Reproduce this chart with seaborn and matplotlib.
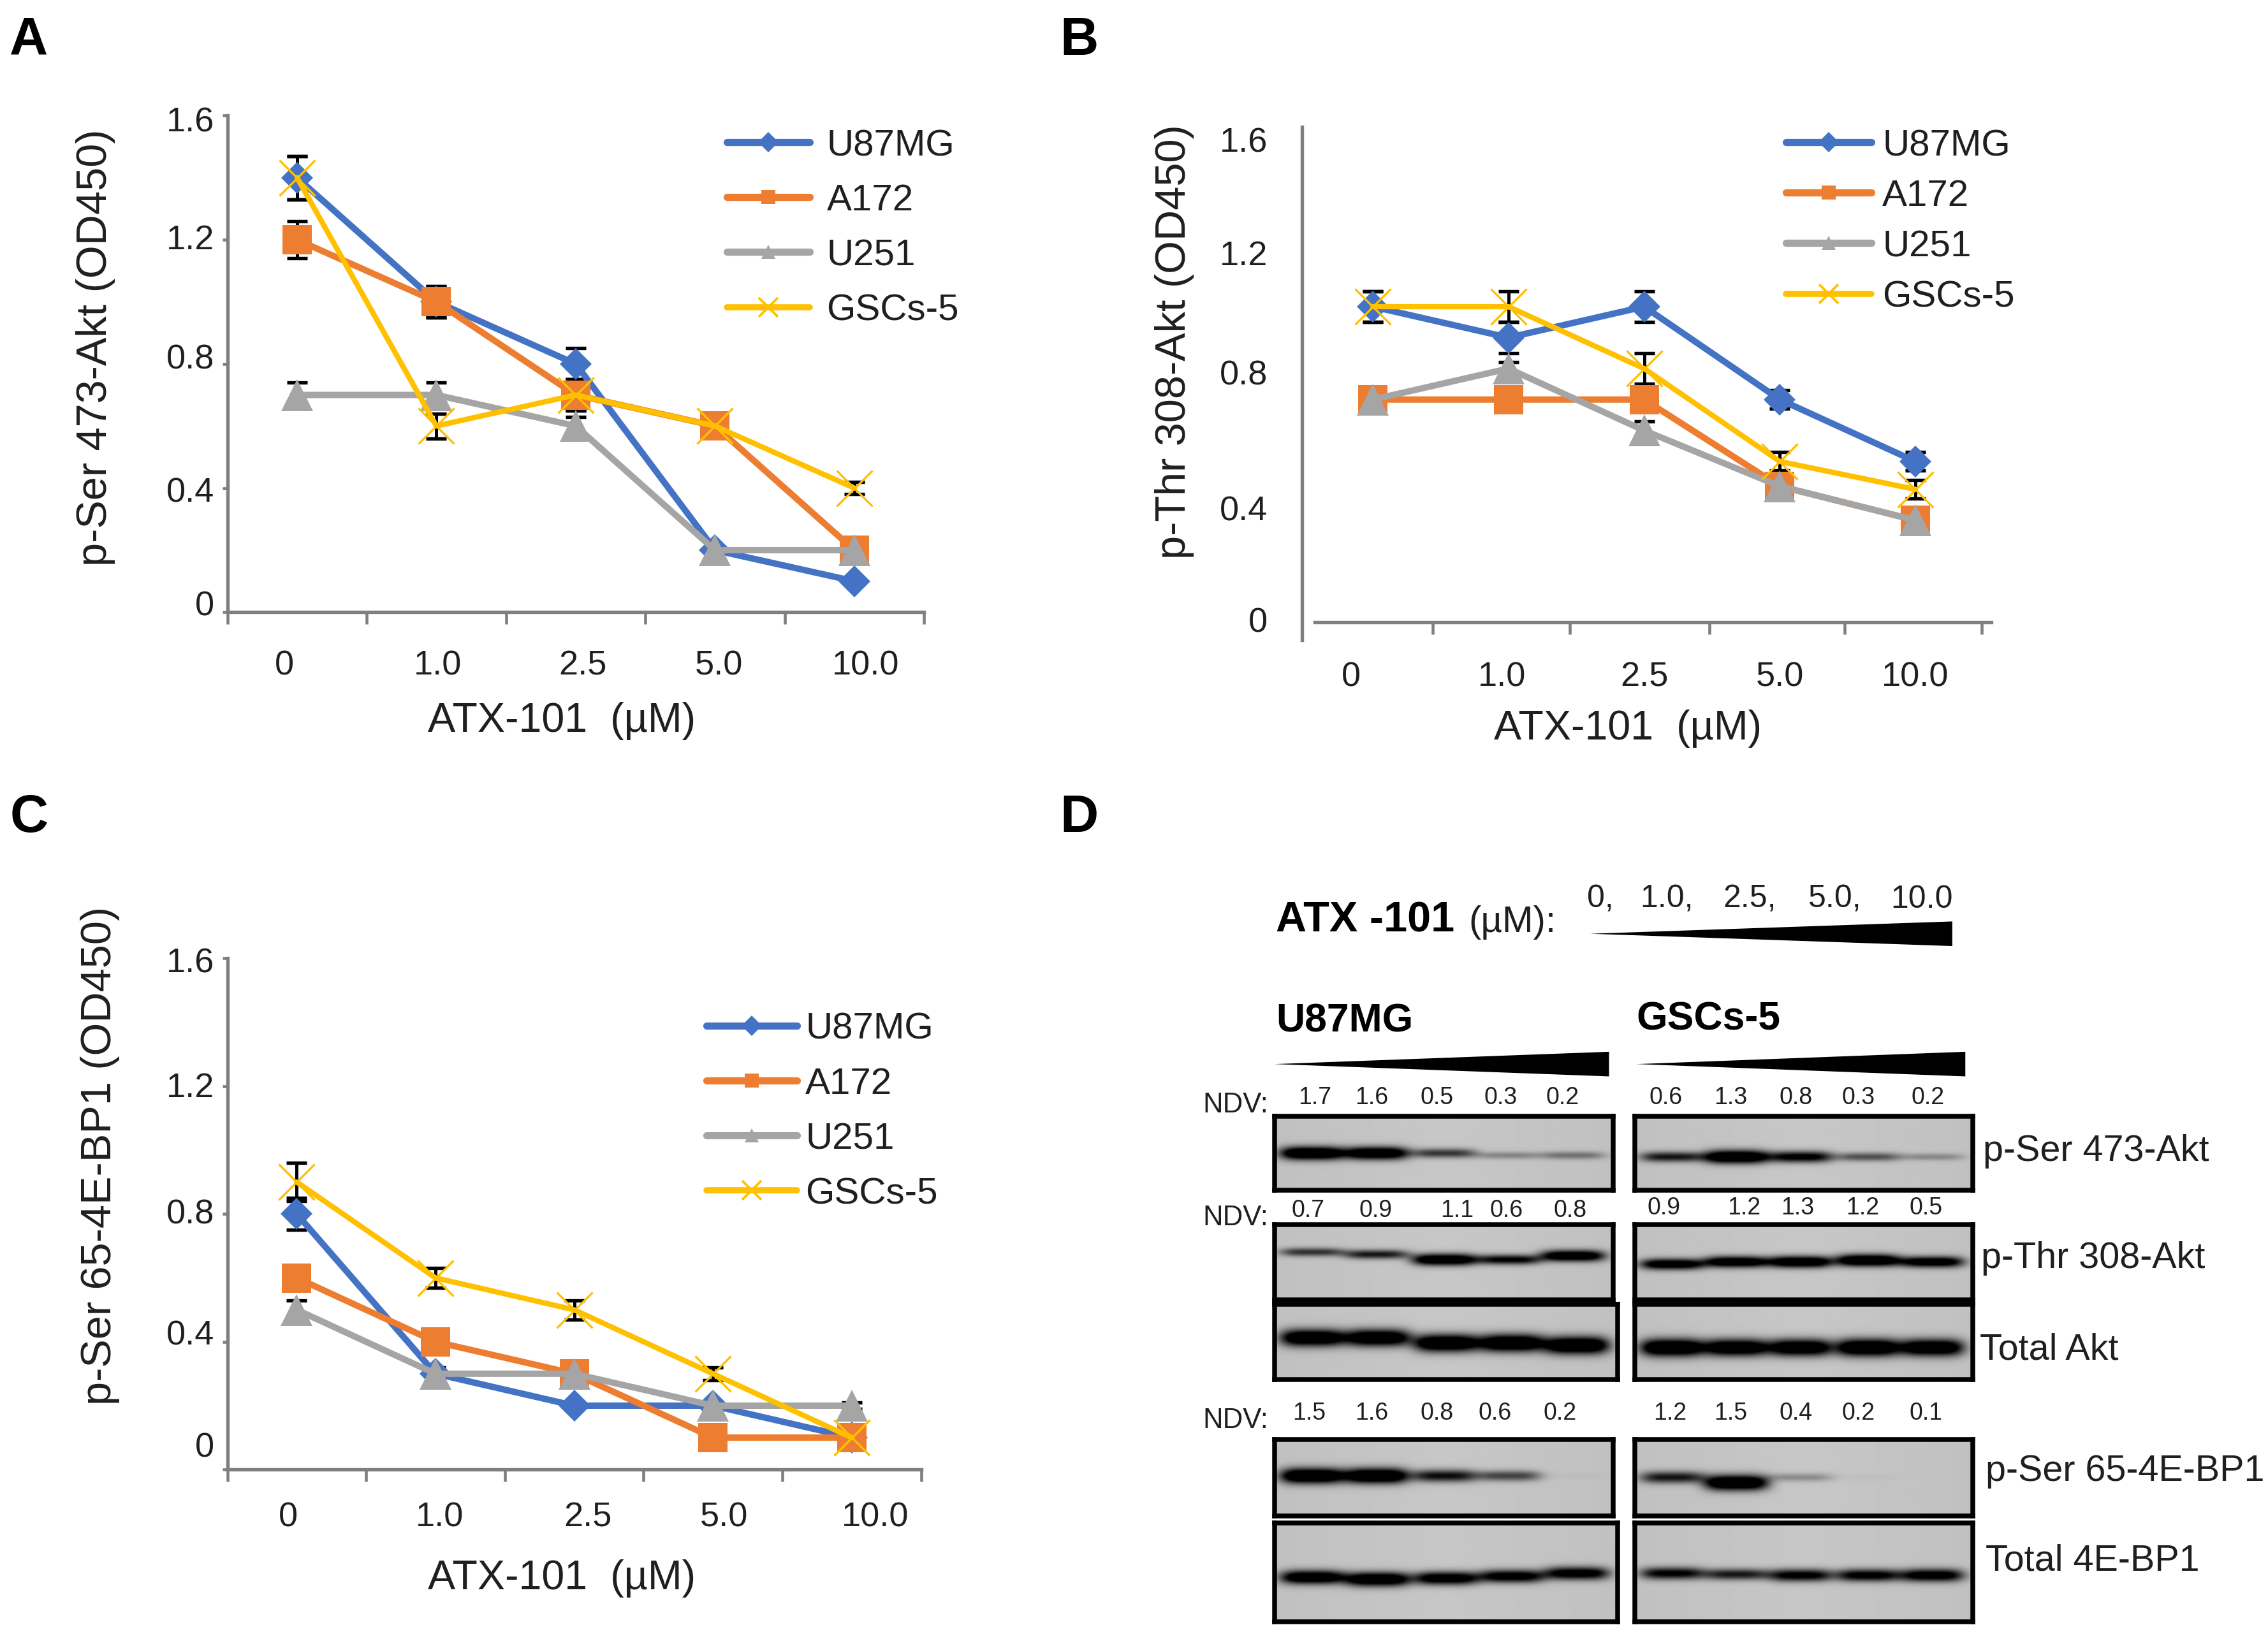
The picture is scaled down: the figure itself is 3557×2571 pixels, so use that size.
import numpy as np
import pandas as pd
import matplotlib
matplotlib.use('Agg')
import matplotlib.pyplot as plt
from matplotlib.lines import Line2D
from matplotlib.patches import Polygon
import seaborn as sns

sns.set_theme(style='white')
plt.rcParams['font.family'] = ['Liberation Sans', 'DejaVu Sans']

# Data
doses = ['0', '1.0', '2.5', '5.0', '10.0']
lines = ['U87MG', 'A172', 'U251', 'GSCs-5']
colors = ['#4472c4', '#ed7d31', '#a5a5a5', '#ffc000']
markers = ['D', 's', '^', 'x']
marker_sizes = [8.5, 11, 12, 13.5]
line_widths = [2.4, 2.4, 2.4, 2.0]

a_values = [[1.4, 1.0, 0.8, 0.2, 0.1],
            [1.2, 1.0, 0.7, 0.6, 0.2],
            [0.7, 0.7, 0.6, 0.2, 0.2],
            [1.4, 0.6, 0.7, 0.6, 0.4]]
a_errors = [[0.07, 0.05, 0.05, 0.01, 0.01],
            [0.06, 0.05, 0.05, 0.01, 0.01],
            [0.04, 0.04, 0.03, 0.01, 0.01],
            [0.07, 0.04, 0.05, 0.01, 0.02]]

b_values = [[1.02, 0.92, 1.02, 0.72, 0.52],
            [0.72, 0.72, 0.72, 0.44, 0.33],
            [0.72, 0.82, 0.62, 0.44, 0.33],
            [1.02, 1.02, 0.82, 0.52, 0.43]]
b_errors = [[0.05, 0.05, 0.05, 0.03, 0.03],
            [0.01, 0.01, 0.01, 0.01, 0.01],
            [0.02, 0.02, 0.03, 0.01, 0.01],
            [0.05, 0.05, 0.05, 0.03, 0.03]]

c_values = [[0.8, 0.3, 0.2, 0.2, 0.1],
            [0.6, 0.4, 0.3, 0.1, 0.1],
            [0.5, 0.3, 0.3, 0.2, 0.2],
            [0.9, 0.6, 0.5, 0.3, 0.1]]
c_errors = [[0.05, 0.02, 0.01, 0.01, 0.01],
            [0.01, 0.01, 0.01, 0.01, 0.01],
            [0.03, 0.01, 0.01, 0.01, 0.01],
            [0.06, 0.03, 0.03, 0.02, 0.01]]

y_labels = ['1.6', '1.2', '0.8', '0.4', '0']

# NDV numbers above the blots
ndv_left = [['1.7', '1.6', '0.5', '0.3', '0.2'],
            ['0.7', '0.9', '1.1', '0.6', '0.8'],
            ['1.5', '1.6', '0.8', '0.6', '0.2']]
ndv_right = [['0.6', '1.3', '0.8', '0.3', '0.2'],
             ['0.9', '1.2', '1.3', '1.2', '0.5'],
             ['1.2', '1.5', '0.4', '0.2', '0.1']]

# Band darkness on each blot, lane by lane
blot_names = ['p-Ser 473-Akt', 'p-Thr 308-Akt', 'Total Akt', 'p-Ser 65-4E-BP1', 'Total 4E-BP1']
bands_left = [[1.0, 0.95, 0.5, 0.22, 0.28],
              [0.5, 0.6, 0.95, 0.7, 0.9],
              [0.95, 0.95, 1.0, 1.0, 1.0],
              [1.0, 1.0, 0.65, 0.45, 0.02],
              [0.9, 0.95, 0.85, 0.8, 0.8]]
bands_right = [[0.6, 1.0, 0.75, 0.4, 0.2],
               [0.85, 0.9, 0.95, 1.0, 0.85],
               [1.0, 0.95, 0.95, 1.0, 0.95],
               [0.6, 1.0, 0.2, 0.02, 0.0],
               [0.7, 0.6, 0.75, 0.75, 0.8]]
band_y_left = [[0.5, 0.5, 0.5, 0.53, 0.53],
               [0.37, 0.4, 0.47, 0.47, 0.42],
               [0.45, 0.45, 0.52, 0.52, 0.55],
               [0.48, 0.48, 0.48, 0.48, 0.48],
               [0.55, 0.57, 0.56, 0.54, 0.51]]
band_y_right = [[0.55, 0.55, 0.55, 0.55, 0.55],
                [0.53, 0.5, 0.5, 0.48, 0.5],
                [0.58, 0.58, 0.58, 0.58, 0.58],
                [0.5, 0.57, 0.5, 0.5, 0.5],
                [0.51, 0.52, 0.53, 0.53, 0.53]]
band_thickness = [0.085, 0.075, 0.11, 0.095, 0.07]

# Layout is written in units of the on-screen view of the figure
W, H = 1566.0, 1132.0
TEXT = '#1f1f1f'
AXIS = '#7f7f7f'

fig = plt.figure(figsize=(3557 / 300, 2571.5 / 300), dpi=300, facecolor='white')


def box(l, t, r, b):
    return [l / W, 1 - b / H, (r - l) / W, (b - t) / H]


def put(x, y, s, **kw):
    kw.setdefault('color', TEXT)
    kw.setdefault('va', 'center')
    fig.text(x / W, 1 - y / H, s, **kw)


# Function for one line chart panel
def panel(rect, values, errors, ylabel, opts):
    ax = fig.add_axes(box(*rect))
    frame = pd.DataFrame(values, index=lines, columns=range(5)).T
    frame['dose'] = range(5)

    for i, name in enumerate(lines):
        ax.errorbar(frame['dose'], frame[name], yerr=errors[i], fmt='none', ecolor='black',
                    elinewidth=1.2, capsize=3.8, capthick=1.3, zorder=1)
    for i, name in enumerate(lines):
        edge = 0.8 if markers[i] == 'x' else 0
        sns.lineplot(data=frame, x='dose', y=name, ax=ax, color=colors[i], linewidth=line_widths[i],
                     marker=markers[i], markersize=marker_sizes[i], markeredgecolor=colors[i],
                     markeredgewidth=edge, errorbar=None, zorder=2 + i, clip_on=False)

    ax.set_xlim(*opts['xlim'])
    ax.set_ylim(*opts['ylim'])
    ax.set_xticks(opts['xticks'])
    ax.set_xticklabels([])
    ax.set_yticks(opts['yticks'])
    ax.set_yticklabels([])
    ax.tick_params(axis='both', which='major', length=opts['ticklen'], width=1.1, color=AXIS, direction='out',
                   bottom=True, left=True)
    ax.tick_params(axis='y', which='major', length=opts['yticklen'])

    # labels sit a little away from the ticks in the original
    ax.set_xticks(opts['xlabel_pos'], doses, minor=True)
    ax.set_yticks(opts['ylabel_pos'], y_labels, minor=True)
    ax.tick_params(axis='x', which='minor', length=0, pad=opts['xpad'], labelsize=13, labelcolor=TEXT)
    ax.tick_params(axis='y', which='minor', length=0, pad=opts['ypad'], labelsize=13, labelcolor=TEXT)

    for side in ['top', 'right']:
        ax.spines[side].set_visible(False)
    for side in ['left', 'bottom']:
        ax.spines[side].set_color(AXIS)
        ax.spines[side].set_linewidth(1.3)
    if 'xbounds' in opts:
        ax.spines['bottom'].set_position(('data', 0))
        ax.spines['bottom'].set_bounds(*opts['xbounds'])

    ax.set_xlabel('ATX-101  (µM)', fontsize=15.5, color=TEXT)
    ax.set_ylabel(ylabel, fontsize=16, color=TEXT)
    ax.xaxis.set_label_coords(opts['xlabel_xy'][0] / W, 1 - opts['xlabel_xy'][1] / H, transform=fig.transFigure)
    ax.yaxis.set_label_coords(opts['ylabel_xy'][0] / W, 1 - opts['ylabel_xy'][1] / H, transform=fig.transFigure)
    ax.yaxis.label.set_verticalalignment('center')
    ax.xaxis.label.set_verticalalignment('center')

    handles = [Line2D([], [], color=colors[i], lw=line_widths[i] + 0.3, marker=markers[i],
                      ms=5.5 if markers[i] != 'x' else 7, mec=colors[i], mew=0.9 if markers[i] == 'x' else 0)
               for i in range(4)]
    ax.legend(handles, lines, frameon=False, fontsize=14, loc='upper left', borderpad=0, borderaxespad=0,
              handlelength=opts['hlen'], handletextpad=opts['tpad'], labelspacing=opts['lspace'], labelcolor=TEXT,
              bbox_to_anchor=(opts['legend_xy'][0] / W, 1 - opts['legend_xy'][1] / H),
              bbox_transform=fig.transFigure)
    return ax


panel((157, 80, 638, 423), a_values, a_errors, 'p-Ser 473-Akt (OD450)', dict(
    xlim=(-0.5, 4.5), ylim=(0, 1.6), xticks=[-0.5, 0.5, 1.5, 2.5, 3.5, 4.5], yticks=[0, 0.4, 0.8, 1.2, 1.6],
    ticklen=4.5, yticklen=2, xlabel_pos=[-0.09, 1.01, 2.05, 3.03, 4.08], ylabel_pos=[1.59, 1.21, 0.826, 0.396, 0.03],
    xpad=14, ypad=5, xlabel_xy=(388, 498), ylabel_xy=(66, 240), legend_xy=(502, 89), hlen=2.22, tpad=0.46,
    lspace=0.55))

panel((899, 88, 1375, 442), b_values, b_errors, 'p-Thr 308-Akt (OD450)', dict(
    xlim=(-0.523, 4.56), ylim=(-0.056, 1.6), xticks=[0.44, 1.45, 2.48, 3.48, 4.49], yticks=[],
    ticklen=4.5, yticklen=0, xlabel_pos=[-0.16, 0.95, 2.0, 3.0, 4.0], ylabel_pos=[1.56, 1.196, 0.81, 0.37, 0.01],
    xpad=14.5, ypad=13, xbounds=(-0.427, 4.56), xlabel_xy=(1124, 503), ylabel_xy=(811, 236),
    legend_xy=(1233, 89), hlen=2.3, tpad=0.3, lspace=0.43))

panel((157, 662, 636, 1015), c_values, c_errors, 'p-Ser 65-4E-BP1 (OD450)', dict(
    xlim=(-0.5, 4.5), ylim=(0, 1.6), xticks=[-0.5, 0.5, 1.5, 2.5, 3.5, 4.5], yticks=[0, 0.4, 0.8, 1.2, 1.6],
    ticklen=4.5, yticklen=2, xlabel_pos=[-0.06, 1.03, 2.1, 3.08, 4.17], ylabel_pos=[1.595, 1.206, 0.81, 0.43, 0.08],
    xpad=12, ypad=5, xlabel_xy=(388, 1090), ylabel_xy=(69, 798), legend_xy=(488, 699), hlen=2.43, tpad=0.22,
    lspace=0.55))

for letter, x, y in [('A', 20, 28), ('B', 745, 28), ('C', 20, 565), ('D', 745, 565)]:
    put(x, y, letter, fontsize=20, fontweight='bold', color='black', ha='center')

# Panel D: header and dose wedges
put(881, 636, 'ATX -101', fontsize=16, fontweight='bold', color='black')
put(1014, 637, '(µM):', fontsize=14)
for x, dose in zip([1105, 1151, 1208, 1267, 1327], ['0,', '1.0,', '2.5,', '5.0,', '10.0']):
    put(x, 621, dose, fontsize=12, ha='center')
put(881, 705, 'U87MG', fontsize=15, fontweight='bold', color='black')
put(1130, 704, 'GSCs-5', fontsize=15, fontweight='bold', color='black')

for x0, x1, ym, half in [(1098, 1348, 645, 8.5), (880, 1111, 735, 8.5), (1130, 1357, 735, 8.5)]:
    pts = [(x0 / W, 1 - ym / H), (x1 / W, 1 - (ym - half) / H), (x1 / W, 1 - (ym + half) / H)]
    fig.add_artist(Polygon(pts, closed=True, facecolor='black', edgecolor='none', transform=fig.transFigure))

# NDV rows
left_x = [[908, 947, 992, 1036, 1079], [903, 950, 1006, 1040, 1084], [904, 947, 992, 1032, 1077]]
right_x = [[1150, 1195, 1240, 1283, 1331], [1149, 1204, 1241, 1286, 1330], [1153, 1195, 1240, 1283, 1330]]
left_y = [758, 836, 976]
right_y = [758, 834, 976]
for row in range(3):
    put(853, left_y[row] + 5, 'NDV:', fontsize=10.5, ha='center')
    for j in range(5):
        put(left_x[row][j], left_y[row], ndv_left[row][j], fontsize=9, ha='center')
        put(right_x[row][j], right_y[row], ndv_right[row][j], fontsize=9, ha='center')


# Function that paints one blot from its band strengths
def blot(rect, strengths, ys, centers, thick):
    ax = fig.add_axes(box(*rect))
    rows, cols = 160, 500
    yy, xx = np.mgrid[0:1:rows * 1j, 0:1:cols * 1j]
    img = np.full((rows, cols), 0.78)
    img -= 0.05 * np.abs(xx - 0.5)
    for s, y, c in zip(strengths, ys, centers):
        shape = np.exp(-((xx - c) / 0.095) ** 4 - ((yy - y) / (thick * (0.45 + 0.6 * s))) ** 2)
        img -= 1.15 * s * shape
    ax.imshow(np.clip(img, 0, 1), cmap='gray', vmin=0, vmax=1, aspect='auto', interpolation='bilinear')
    ax.set_xticks([])
    ax.set_yticks([])
    for side in ax.spines.values():
        side.set_color('black')
        side.set_linewidth(1.8)


row_tops = [771, 846, 901, 994, 1052]
row_bots = [822, 898, 953, 1047, 1120]
left_right_edge = [1114, 1114, 1117, 1114, 1117]
label_x = [1369, 1368, 1367, 1371, 1371]
label_y = [795, 869, 932, 1016, 1078]
lanes_left = [0.11, 0.30, 0.50, 0.69, 0.88]
lanes_right = [0.11, 0.30, 0.49, 0.69, 0.88]
for i, name in enumerate(blot_names):
    blot((880, row_tops[i], left_right_edge[i], row_bots[i]), bands_left[i], band_y_left[i], lanes_left, band_thickness[i])
    blot((1129, row_tops[i], 1362, row_bots[i]), bands_right[i], band_y_right[i], lanes_right, band_thickness[i])
    put(label_x[i], label_y[i], name, fontsize=13.8)

fig.savefig('out.png', dpi=300, facecolor='white')
